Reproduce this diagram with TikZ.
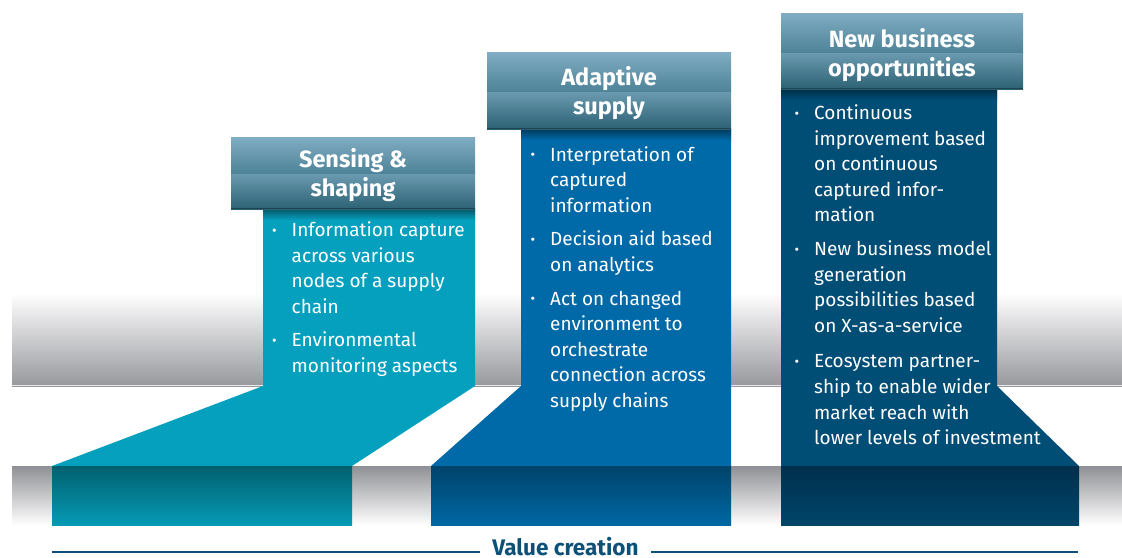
\documentclass[tikz,border=0pt]{standalone}
\usepackage{fontspec}
\setmainfont{Fira Sans}
\usetikzlibrary{calc}

\definecolor{tealA}{HTML}{06A0BF}
\definecolor{tealTop}{HTML}{02606F}
\definecolor{tealBot}{HTML}{069AB5}
\definecolor{blueA}{HTML}{0069A7}
\definecolor{blueTop}{HTML}{00436B}
\definecolor{blueBot}{HTML}{0067A3}
\definecolor{navyA}{HTML}{004D76}
\definecolor{navyTop}{HTML}{002F4C}
\definecolor{navyBot}{HTML}{00456A}
\definecolor{hdrA}{HTML}{80ADC3}
\definecolor{hdrB}{HTML}{4D8297}
\definecolor{hdrC}{HTML}{6A9AAF}
\definecolor{hdrD}{HTML}{2C6174}
\definecolor{bandGray}{HTML}{97989D}
\definecolor{valBlue}{HTML}{0D5078}

\newcommand{\bul}{\makebox[19.5pt][l]{\fontsize{14}{14}\selectfont\raisebox{1.5pt}{•}}}

\tikzset{
  hdrtext/.style={text=white, inner sep=0pt, anchor=base,
    font=\bfseries\fontsize{23.5}{29}\selectfont},
  bodytext/.style={text=white, inner sep=0pt, anchor=base west,
    font=\fontsize{19}{25.6}\selectfont},
  valline/.style={draw=valBlue, line width=2.4pt},
}

\newcommand{\header}[5]{%
  % #1 left, #2 top, #3 right, #4 middle, #5 bottom
  \shade[top color=hdrA, bottom color=hdrB] (#1,#2) rectangle (#3,#4);
  \shade[top color=hdrC, bottom color=hdrD] (#1,#4) rectangle (#3,#5);
  \fill[hdrD!70!black] (#1,#5-1.2) rectangle (#3,#5);
}

\begin{document}
\begin{tikzpicture}[x=1pt, y=-1pt]
\useasboundingbox (0,0) rectangle (1122,557);

% grey bands behind the columns
\shade[top color=white, bottom color=bandGray] (12,293) rectangle (1122,386);
\fill[white!80!bandGray] (12,385.2) rectangle (1122,386.4);
\shade[top color=bandGray!95!black, bottom color=white] (12,466) rectangle (1122,525);

% column 1: sensing & shaping
\fill[tealA] (263,209) -- (475,209) -- (475,386) -- (352,466) -- (52,466) -- (263,386) -- cycle;
\shade[top color=tealA!55!black, bottom color=tealA] (263,209) rectangle (475,220);
\shade[top color=tealTop, bottom color=tealBot] (52,466) rectangle (352,525);

% column 2: adaptive supply
\fill[blueA] (521,129) -- (731,129) -- (731,466) -- (431,466) -- (521,386) -- cycle;
\shade[top color=blueA!55!black, bottom color=blueA] (521,129) rectangle (731,140);
\shade[top color=blueTop, bottom color=blueBot] (431,466) rectangle (731,525);

% column 3: new business opportunities
\fill[navyA] (781,89) -- (997,89) -- (997,386) -- (1079,466) -- (781,466) -- cycle;
\shade[top color=navyA!60!black, bottom color=navyA] (781,89) rectangle (997,100);
\shade[top color=navyTop, bottom color=navyBot] (781,466) rectangle (1079,525);

% header plates
\header{231}{137}{475}{174}{209}
\header{487}{52}{731}{92}{129}
\header{781}{13}{1023}{53}{89}

\node[hdrtext] (h1) at (353,167) {\begin{tabular}[t]{@{}c@{}}Sensing \&\\shaping\end{tabular}};
\node[hdrtext] (h2) at (609,85.5) {\begin{tabular}[t]{@{}c@{}}Adaptive\\supply\end{tabular}};
\node[hdrtext] (h3) at (902,47) {\begin{tabular}[t]{@{}c@{}}New business\\opportunities\end{tabular}};

% bullet texts
\node[bodytext] (b1) at (272,236.5) {\begin{tabular}[t]{@{}l@{}l@{}}
\bul & Information capture\\
     & across various\\
     & nodes of a supply\\
     & chain\\[8pt]
\bul & Environmental\\
     & monitoring aspects
\end{tabular}};

\node[bodytext] (b2) at (530.5,161) {\begin{tabular}[t]{@{}l@{}l@{}}
\bul & Interpretation of\\
     & captured\\
     & information\\[8pt]
\bul & Decision aid based\\
     & on analytics\\[8pt]
\bul & Act on changed\\
     & environment to\\
     & orchestrate\\
     & connection across\\
     & supply chains
\end{tabular}};

\node[bodytext] (b3) at (794.5,119.5) {\begin{tabular}[t]{@{}l@{}l@{}}
\bul & Continuous\\
     & improvement based\\
     & on continuous\\
     & captured infor-\\
     & mation\\[8pt]
\bul & New business model\\
     & generation\\
     & possibilities based\\
     & on X-as-a-service\\[10pt]
\bul & Ecosystem partner-\\
     & ship to enable wider\\
     & market reach with\\
     & lower levels of investment
\end{tabular}};

% value creation axis
\node[text=valBlue, inner xsep=12pt, inner ysep=0pt, anchor=base,
      font=\bfseries\fontsize{22.5}{26}\selectfont] (vc) at (565.5,555) {Value creation};
\coordinate (lineL) at (52,552);
\coordinate (lineR) at (1078,552);
\draw[valline] (lineL) -- (lineL -| vc.west);
\draw[valline] (lineR -| vc.east) -- (lineR);
\end{tikzpicture}
\end{document}
